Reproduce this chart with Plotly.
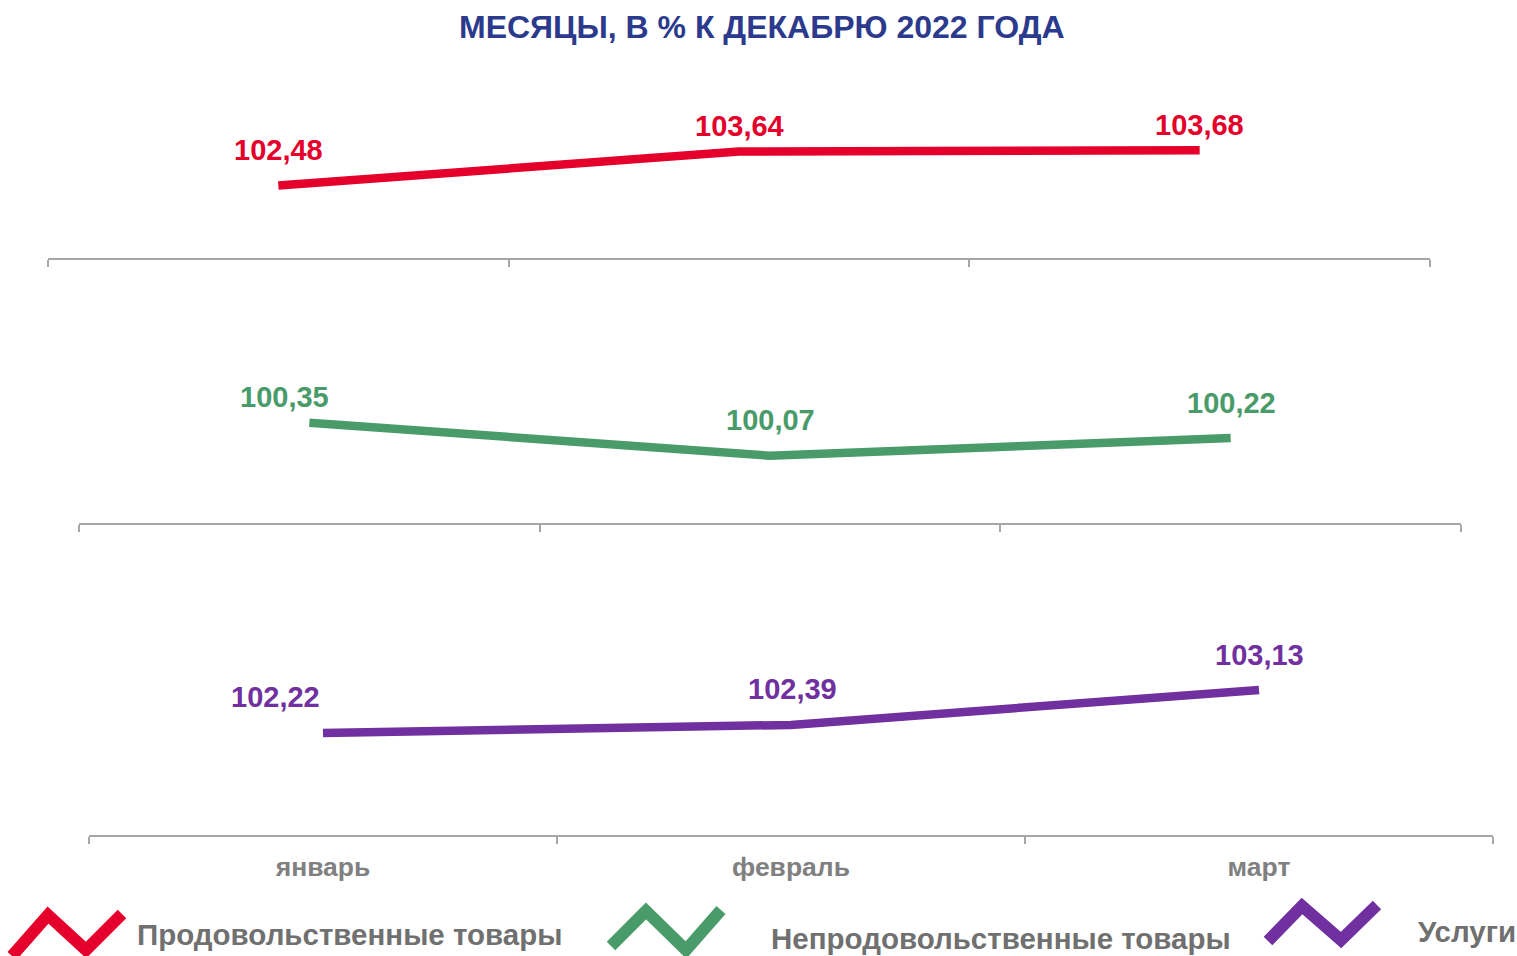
import plotly.graph_objects as go

W, H = 1517, 956

months = ["январь", "февраль", "март"]
food = [102.48, 103.64, 103.68]
nonfood = [100.35, 100.07, 100.22]
services = [102.22, 102.39, 103.13]
series_names = ["Продовольственные товары", "Непродовольственные товары", "Услуги"]
title_text = "МЕСЯЦЫ, В % К ДЕКАБРЮ 2022 ГОДА"

colors = ["#E4002B", "#4A9B6A", "#7030A0"]
label_shift = [
    [(0, 35), (0, 26), (0, 25)],
    [(-25, 26), (0, 36), (1, 35)],
    [(-48, 36), (1, 36), (0, 35)],
]

def px(x):
    return x / W

def py(y):
    return 1 - y / H

FONT = "Liberation Sans, Arial, sans-serif"

fig = go.Figure()
data = [food, nonfood, services]
for i, vals in enumerate(data):
    sfx = "" if i == 0 else str(i + 1)
    fig.add_trace(go.Scatter(
        x=months, y=vals, mode="lines",
        line=dict(color=colors[i], width=8.5),
        xaxis="x" + sfx, yaxis="y" + sfx,
        name=series_names[i], showlegend=False, hoverinfo="skip",
    ))

annotations = []
for i, vals in enumerate(data):
    sfx = "" if i == 0 else str(i + 1)
    for j, v in enumerate(vals):
        xs, ys = label_shift[i][j]
        annotations.append(dict(
            x=months[j], y=v, xref="x" + sfx, yref="y" + sfx,
            text="<b>" + f"{v:.2f}".replace(".", ",") + "</b>",
            showarrow=False, xshift=xs, yshift=ys,
            font=dict(family=FONT, size=29, color=colors[i]),
            xanchor="center", yanchor="middle",
        ))

annotations.append(dict(
    x=px(762), y=py(27), xref="paper", yref="paper",
    text="<b>" + title_text + "</b>", showarrow=False,
    font=dict(family=FONT, size=32, color="#2B3A8C"),
    xanchor="center", yanchor="middle",
))

# legend texts
leg_text_pos = [(135, 934), (769, 938), (1416, 931)]
for name, (lx, ly) in zip(series_names, leg_text_pos):
    annotations.append(dict(
        x=px(lx), y=py(ly), xref="paper", yref="paper",
        text="<b>" + name + "</b>", showarrow=False,
        font=dict(family=FONT, size=29.5, color="#707070"),
        xanchor="left", yanchor="middle",
    ))

# legend zigzag icons
icons = [
    [(12, 956), (48, 915), (86, 950), (122, 914)],
    [(611, 946), (646, 911), (686, 950), (721, 910)],
    [(1268, 941), (1302, 906), (1341, 940), (1377, 905)],
]
shapes = []
for pts, c in zip(icons, colors):
    path = "M " + " L ".join(f"{px(x)},{py(y)}" for x, y in pts)
    shapes.append(dict(type="path", path=path, xref="paper", yref="paper",
                       line=dict(color=c, width=12)))

axis_common = dict(
    type="category", range=[-0.5, 2.5], showgrid=False, zeroline=False,
    showline=True, linecolor="#A6A6A6", linewidth=1.5,
    ticks="outside", tickson="boundaries", ticklen=7, tickwidth=1.5,
    tickcolor="#A6A6A6", fixedrange=True,
)

fig.update_layout(
    width=W, height=H, margin=dict(l=0, r=0, t=0, b=0),
    paper_bgcolor="white", plot_bgcolor="white",
    showlegend=False,
    xaxis=dict(domain=[px(48), px(1430)], anchor="y", showticklabels=False, **axis_common),
    yaxis=dict(domain=[py(258), py(141)], range=[100, 104], visible=False, anchor="x"),
    xaxis2=dict(domain=[px(79), px(1461)], anchor="y2", showticklabels=False, **axis_common),
    yaxis2=dict(domain=[py(523), py(405)], range=[99.5, 100.5], visible=False, anchor="x2"),
    xaxis3=dict(domain=[px(89), px(1493)], anchor="y3", showticklabels=True,
                ticklabelstandoff=7,
                tickprefix="<b>", ticksuffix="</b>",
                tickfont=dict(family=FONT, size=26.5, color="#808080"), **axis_common),
    yaxis3=dict(domain=[py(835), py(646)], range=[100.06, 104.06], visible=False, anchor="x3"),
    annotations=annotations, shapes=shapes,
)

fig.write_html("out.html")
